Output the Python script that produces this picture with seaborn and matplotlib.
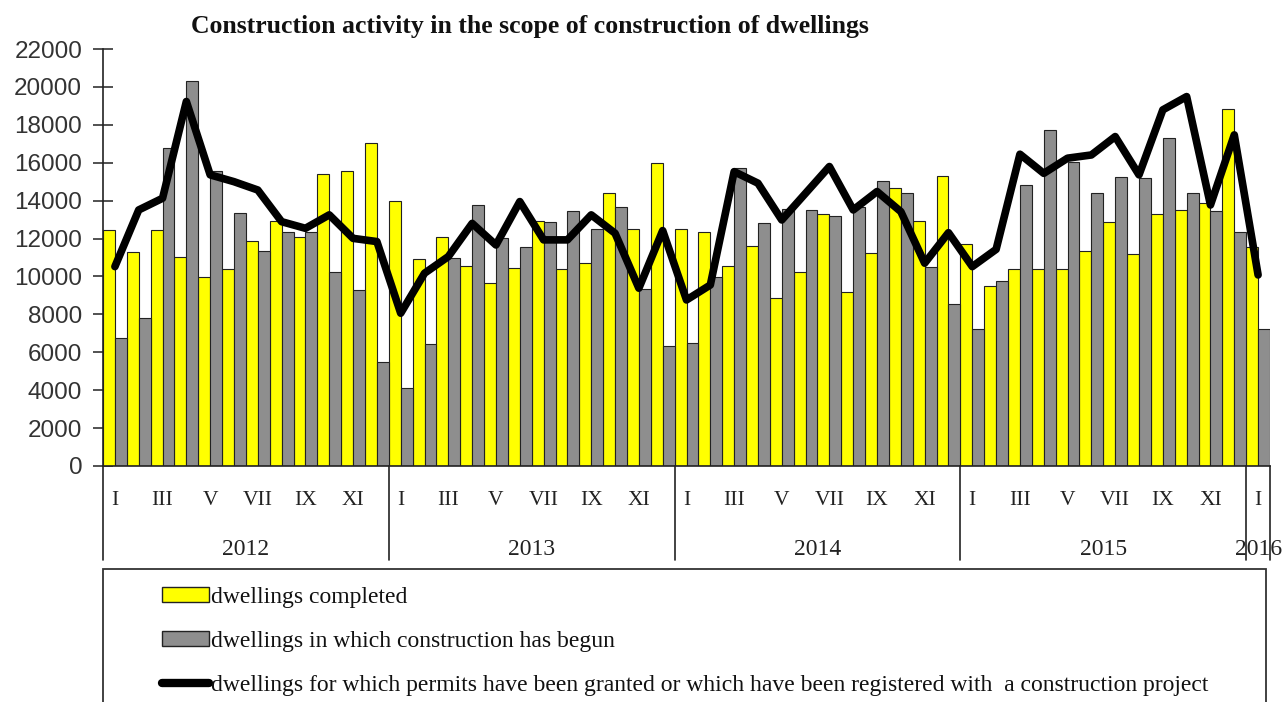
import numpy as np
import pandas as pd
import matplotlib
matplotlib.use("Agg")
import matplotlib.pyplot as plt
import seaborn as sns
from matplotlib.patches import Patch, Rectangle
from matplotlib.lines import Line2D

# monthly values, Jan 2012 - Jan 2016
completed = [12450, 11310, 12450, 11050, 9990, 10400, 11870, 12950, 12100, 15410, 15570, 17030,
             14000, 10910, 12100, 10550, 9640, 10470, 12930, 10400, 10730, 14420, 12520, 15970,
             12520, 12350, 10550, 11630, 8850, 10250, 13300, 9160, 11220, 14650, 12930, 15300,
             11700, 9500, 10400, 10400, 10400, 11360, 12860, 11200, 13280, 13510, 13860, 18840,
             11540]
begun = [6740, 7830, 16800, 20330, 15570, 13350, 11330, 12370, 12370, 10220, 9290, 5490,
         4100, 6420, 10960, 13770, 12050, 11560, 12860, 13460, 12520, 13690, 9340, 6330,
         6470, 9990, 15740, 12840, 13560, 13510, 13190, 13690, 15060, 14420, 10480, 8530,
         7210, 9760, 14830, 17730, 16060, 14420, 15230, 15180, 17290, 14420, 13440, 12370,
         7210]
permits = [10520, 13510, 14125, 19230, 15360, 15000, 14560, 12890, 12540, 13250, 12010, 11840,
           8060, 10170, 11050, 12800, 11660, 13950, 11930, 11930, 13250, 12280, 9380, 12420,
           8760, 9550, 15530, 14920, 12980, 14390, 15800, 13510, 14480, 13420, 10700, 12310,
           10520, 11430, 16450, 15440, 16240, 16410, 17380, 15360, 18790, 19490, 13770, 17470,
           10080]
years = ["2012", "2013", "2014", "2015", "2016"]
months_per_year = [12, 12, 12, 12, 1]
month_labels = ["I", "III", "V", "VII", "IX", "XI"]

series_names = ["dwellings completed", "dwellings in which construction has begun"]
line_name = ("dwellings for which permits have been granted or which have been "
             "registered with  a construction project")

n = len(completed)
idx = np.arange(n)
df = pd.DataFrame({"idx": np.concatenate([idx, idx]),
                   "value": completed + begun,
                   "series": [series_names[0]] * n + [series_names[1]] * n})

sns.set_style("ticks")
plt.rcParams["font.family"] = ["Liberation Serif", "DejaVu Serif"]

W, H = 1286, 702
fig = plt.figure(figsize=(W / 100, H / 100), dpi=100)
ax = fig.add_axes([103 / W, 1 - 466 / H, (1270 - 103) / W, (466 - 49) / H])

yellow, gray = "#FFFF00", "#8E8E8E"
sns.barplot(data=df, x="idx", y="value", hue="series", palette=[yellow, gray],
            width=1.0, saturation=1, edgecolor="#222222", linewidth=0.8,
            errorbar=None, legend=False, ax=ax)
sns.lineplot(x=idx, y=permits, color="black", linewidth=5.5, ax=ax)

ax.set_xlim(-0.5, n - 0.5)
ax.set_ylim(0, 22000)
ax.set_xlabel("")
ax.set_ylabel("")
sns.despine(ax=ax)
for s in ["left", "bottom"]:
    ax.spines[s].set_color("#222222")
    ax.spines[s].set_linewidth(1.2)

ax.set_yticks(range(0, 22001, 2000))
ax.set_yticklabels([str(v) for v in range(0, 22001, 2000)],
                   fontfamily="Liberation Sans", fontsize=17.5, color="#333333")
ax.tick_params(axis="y", direction="inout", length=14, width=1.1, pad=8, color="#222222")

# month ticks (every other month) and year bands
xt, xl = [], []
start = 0
edges = [-0.5]
for yr, cnt in zip(years, months_per_year):
    for m in range(0, cnt, 2):
        xt.append(start + m)
        xl.append(month_labels[m // 2])
    mid = start + (cnt - 1) / 2
    ax.text(mid, -0.2, yr, transform=ax.get_xaxis_transform(),
            ha="center", va="center", fontsize=17, color="#222222")
    start += cnt
    edges.append(start - 0.5)
ax.set_xticks(xt)
ax.set_xticklabels(xl, fontsize=15.5, color="#222222")
ax.tick_params(axis="x", length=0, pad=18)
for e in edges:
    ax.plot([e, e], [0, -0.225], transform=ax.get_xaxis_transform(),
            color="#222222", lw=1.2, clip_on=False)

fig.text(530 / W, 1 - 27 / H, "Construction activity in the scope of construction of dwellings",
         ha="center", va="center", fontsize=18.5, fontweight="bold", color="#111111")

# legend box runs off the bottom of the figure
fig.patches.append(Rectangle((103 / W, -0.05), (1266 - 103) / W, 0.05 + 1 - 569 / H,
                             transform=fig.transFigure, fill=False,
                             edgecolor="#333333", linewidth=1.3))
handles = [Patch(facecolor=yellow, edgecolor="#222222", linewidth=1.0),
           Patch(facecolor=gray, edgecolor="#222222", linewidth=1.0),
           Line2D([], [], color="black", linewidth=6)]
fig.legend(handles, series_names + [line_name], loc="upper left",
           bbox_to_anchor=(150 / W, 1 - 575 / H), frameon=False,
           fontsize=17, handlelength=2.0, handleheight=0.55, handletextpad=0.1,
           labelspacing=0.98, borderpad=0, labelcolor="#111111")

fig.savefig("out.png", dpi=100)
